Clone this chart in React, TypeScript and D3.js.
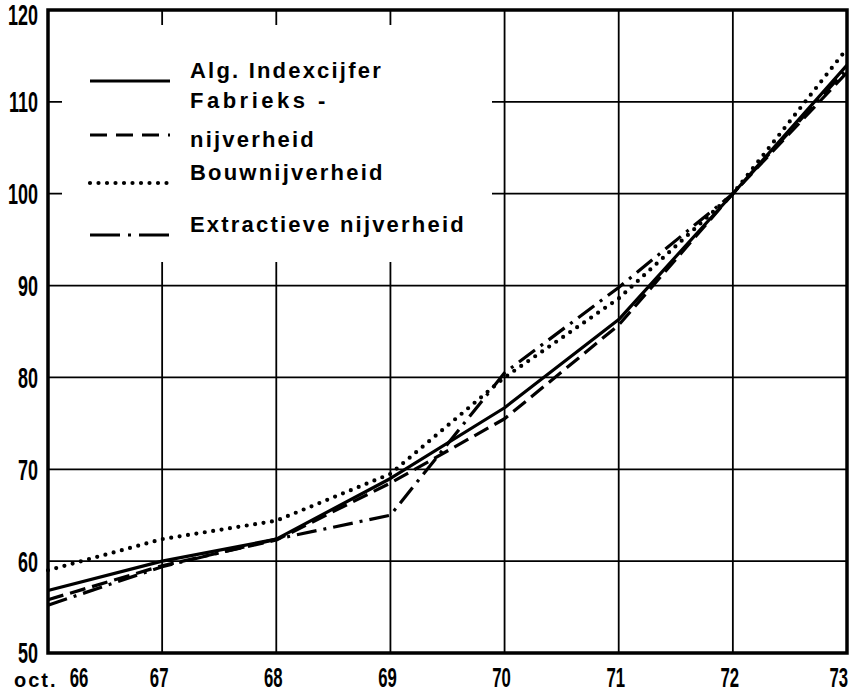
import React from 'react';
import * as d3 from 'd3';

const years = [66, 67, 68, 69, 70, 71, 72, 73];
const algIndex = [56.8, 60.0, 62.4, 69.0, 76.7, 86.3, 100, 114.0];
const fabrieks = [55.8, 59.5, 62.3, 68.5, 75.5, 85.7, 100, 113.2];
const bouw = [59.0, 62.4, 64.4, 69.5, 80.0, 88.6, 100, 115.8];
const extractief = [55.2, 59.4, 62.4, 65.0, 80.5, 89.8, 100, 113.6];
const yTicks = [50, 60, 70, 80, 90, 100, 110, 120];
const xTickLabels = ['66', '67', '68', '69', '70', '71', '72', '73'];
const firstTickPrefix = 'oct.';
const seriesLabels = [
  ['Alg. Indexcijfer'],
  ['Fabrieks -', 'nijverheid'],
  ['Bouwnijverheid'],
  ['Extractieve nijverheid'],
];

const W = 851;
const H = 695;
const M = { left: 48, right: 847, top: 10, bottom: 653 };

const styles = [
  { dash: null, width: 3.2, cap: 'butt' },
  { dash: '16 7', width: 3.2, cap: 'butt' },
  { dash: '0 8.5', width: 4.2, cap: 'round' },
  { dash: '20 7 3 7', width: 3.2, cap: 'butt' },
];

export default function App() {
  const x = d3.scaleLinear().domain([66, 73]).range([M.left, M.right]);
  const y = d3.scaleLinear().domain([50, 120]).range([M.bottom, M.top]);
  const series = [algIndex, fabrieks, bouw, extractief];
  const line = d3
    .line<number>()
    .x((_, i) => x(years[i]))
    .y((d) => y(d));

  const legendBox = { x0: 62, x1: 492, y0: 25, y1: 262 };
  const legendLineY = [81, 135, 183, 235];
  const legendTextY = [[78], [108, 147], [180], [232]];

  const bold = '"Liberation Sans", Arial, Helvetica, sans-serif';
  const squeeze = 0.62;

  return (
    <svg width={W} height={H} style={{ position: 'absolute', left: 0, top: 0, background: '#fff' }}>
      <rect x={0} y={0} width={W} height={H} fill="#fff" />
      {/* grid */}
      <g stroke="#000" strokeWidth={1.8}>
        {years.slice(1, -1).map((t) => (
          <line key={'v' + t} x1={x(t)} x2={x(t)} y1={M.top} y2={M.bottom} />
        ))}
        {yTicks.slice(1, -1).map((t) => (
          <line key={'h' + t} x1={M.left} x2={M.right} y1={y(t)} y2={y(t)} />
        ))}
      </g>
      {/* legend background */}
      <rect
        x={legendBox.x0}
        y={legendBox.y0}
        width={legendBox.x1 - legendBox.x0}
        height={legendBox.y1 - legendBox.y0}
        fill="#fff"
      />
      {/* data lines */}
      <g fill="none" stroke="#000">
        {series.map((s, i) => (
          <path
            key={'s' + i}
            d={line(s) || ''}
            strokeWidth={styles[i].width}
            strokeDasharray={styles[i].dash || undefined}
            strokeLinecap={styles[i].cap as any}
            strokeLinejoin="round"
          />
        ))}
      </g>
      {/* frame */}
      <rect
        x={M.left}
        y={M.top}
        width={M.right - M.left}
        height={M.bottom - M.top}
        fill="none"
        stroke="#000"
        strokeWidth={3.5}
      />
      {/* legend */}
      <g>
        {seriesLabels.map((lab, i) => (
          <g key={'l' + i}>
            <line
              x1={90}
              x2={170}
              y1={legendLineY[i]}
              y2={legendLineY[i]}
              stroke="#000"
              strokeWidth={styles[i].width}
              strokeDasharray={
                i === 1 ? '17 9' : i === 3 ? '30 8 3 8' : styles[i].dash || undefined
              }
              strokeLinecap={styles[i].cap as any}
            />
            {lab.map((t, j) => (
              <text
                key={j}
                x={190}
                y={legendTextY[i][j]}
                fontFamily={bold}
                fontWeight="bold"
                fontSize={22}
                letterSpacing={i === 1 && j === 0 ? 3.5 : 2.2}
                fill="#000"
              >
                {t}
              </text>
            ))}
          </g>
        ))}
      </g>
      {/* y axis labels */}
      <g>
        {yTicks.map((t) => {
          const yy = Math.max(y(t), 15);
          return (
            <text
              key={'yl' + t}
              transform={`translate(38,${yy}) scale(${squeeze},1)`}
              textAnchor="end"
              dy="0.36em"
              fontFamily={bold}
              fontWeight="bold"
              fontSize={29}
              fill="#000"
            >
              {t}
            </text>
          );
        })}
      </g>
      {/* x axis labels */}
      <g>
        <text
          x={14}
          y={687}
          fontFamily={bold}
          fontWeight="bold"
          fontSize={20}
          letterSpacing={2}
          fill="#000"
        >
          {firstTickPrefix}
        </text>
        {years.map((t, i) => {
          const first = i === 0;
          const last = i === years.length - 1;
          const px = first ? x(t) + 31 : last ? M.right + 1 : x(t) - 3;
          return (
            <text
              key={'xl' + t}
              transform={`translate(${px},687) scale(${squeeze},1)`}
              textAnchor={last ? 'end' : 'middle'}
              fontFamily={bold}
              fontWeight="bold"
              fontSize={27}
              fill="#000"
            >
              {xTickLabels[i]}
            </text>
          );
        })}
      </g>
    </svg>
  );
}
